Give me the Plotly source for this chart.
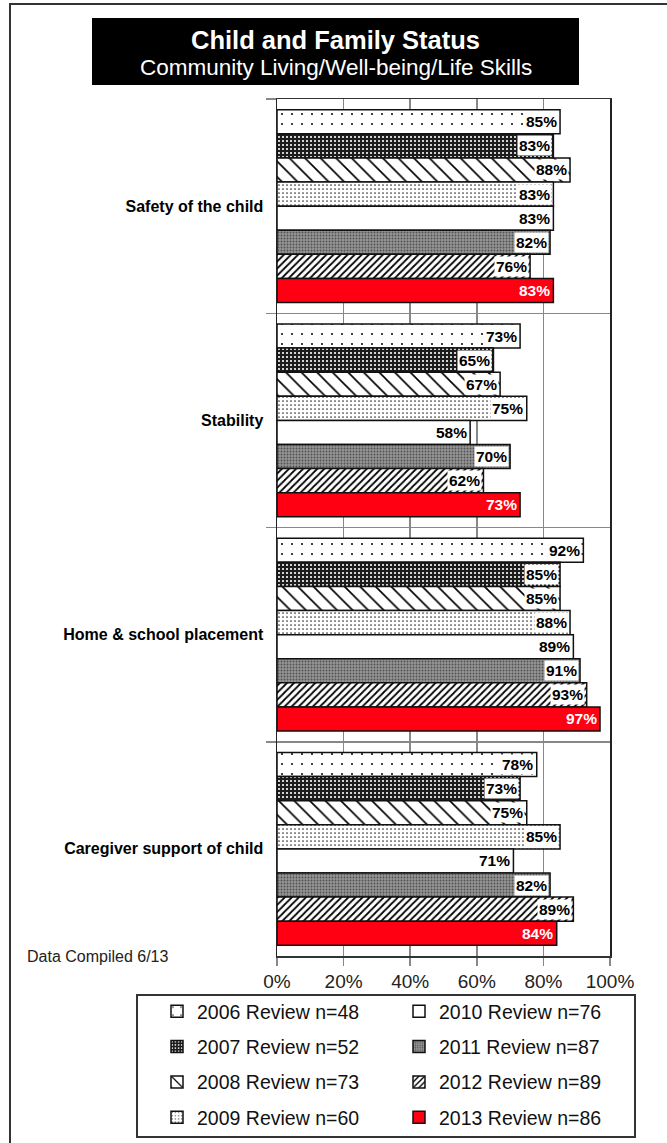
import plotly.graph_objects as go

categories = ["Safety of the child", "Stability", "Home & school placement", "Caregiver support of child"]
series_names = ["2006 Review n=48", "2007 Review n=52", "2008 Review n=73", "2009 Review n=60",
                "2010 Review n=76", "2011 Review n=87", "2012 Review n=89", "2013 Review n=86"]
v2006 = [85, 73, 92, 78]
v2007 = [83, 65, 85, 73]
v2008 = [88, 67, 85, 75]
v2009 = [83, 75, 88, 85]
v2010 = [83, 58, 89, 71]
v2011 = [82, 70, 91, 82]
v2012 = [76, 62, 93, 89]
v2013 = [83, 73, 97, 84]
series_values = [v2006, v2007, v2008, v2009, v2010, v2011, v2012, v2013]
x_ticks = [0, 20, 40, 60, 80, 100]
x_tick_labels = ["0%", "20%", "40%", "60%", "80%", "100%"]

styles = [
    dict(color="white", pattern=dict(shape=".", fgcolor="black", bgcolor="white", size=10, solidity=0.03, fillmode="replace")),
    dict(color="#1c1c1c", pattern=dict(shape=".", fgcolor="white", bgcolor="#1c1c1c", size=4, solidity=0.22, fillmode="replace")),
    dict(color="white", pattern=dict(shape="\\", fgcolor="black", bgcolor="white", size=11, solidity=0.15, fillmode="replace")),
    dict(color="white", pattern=dict(shape=".", fgcolor="#333", bgcolor="white", size=4, solidity=0.15, fillmode="replace")),
    dict(color="white", pattern=dict(shape="")),
    dict(color="#8e8e8e", pattern=dict(shape=".", fgcolor="#505050", bgcolor="#959595", size=3, solidity=0.3, fillmode="replace")),
    dict(color="white", pattern=dict(shape="/", fgcolor="black", bgcolor="white", size=5, solidity=0.35, fillmode="replace")),
    dict(color="#FF0013", pattern=dict(shape="")),
]

W, H = 667, 1143
L, R, T, B = 277, 610, 99, 956
FONT = "Liberation Sans, Arial, sans-serif"


def px_x(px):
    return (px - L) / (R - L)


def px_y(py):
    return (B - py) / (B - T)


fig = go.Figure()
for i, (name, vals, st) in enumerate(zip(series_names, series_values, styles)):
    fig.add_trace(go.Bar(
        y=categories, x=vals, name=name, orientation="h",
        marker=dict(color=st["color"], pattern=st["pattern"], line=dict(color="#111", width=1.5)),
        legend="legend" if i < 4 else "legend2",
        legendgroup=name,
        hoverinfo="skip",
    ))

bargap = 0.1
n = len(series_names)
bw = (1 - bargap) / n
annotations = []
for i, vals in enumerate(series_values):
    off = -(1 - bargap) / 2 + (i + 0.5) * bw
    last = i == n - 1
    for j, v in enumerate(vals):
        annotations.append(dict(
            x=v, y=j + off, xref="x", yref="y", text=f"<b>{v}%</b>", showarrow=False,
            xanchor="right", yanchor="middle", xshift=-1.5,
            font=dict(family=FONT, size=15.5, color="white" if last else "black"),
            bgcolor=None if last else "white", borderpad=1,
        ))

annotations += [
    dict(x=px_x(335.5), y=px_y(40), xref="paper", yref="paper", showarrow=False,
         text="<b>Child and Family Status</b>", xanchor="center", yanchor="middle",
         font=dict(family=FONT, size=25.5, color="white")),
    dict(x=px_x(336), y=px_y(68), xref="paper", yref="paper", showarrow=False,
         text="Community Living/Well-being/Life Skills", xanchor="center", yanchor="middle",
         font=dict(family=FONT, size=22.5, color="white")),
    dict(x=px_x(25), y=px_y(957), xref="paper", yref="paper", showarrow=False,
         text="Data Compiled 6/13", xanchor="left", yanchor="middle",
         font=dict(family=FONT, size=16, color="#222")),
]

shapes = [
    dict(type="rect", xref="paper", yref="paper", x0=px_x(10), x1=px_x(720), y0=px_y(4), y1=px_y(1200),
         line=dict(color="#333", width=2), fillcolor="rgba(0,0,0,0)", layer="above"),
    dict(type="rect", xref="paper", yref="paper", x0=px_x(92), x1=px_x(579), y0=px_y(18), y1=px_y(85),
         line=dict(width=0), fillcolor="black", layer="below"),
    dict(type="rect", xref="paper", yref="paper", x0=px_x(137), x1=px_x(635), y0=px_y(995), y1=px_y(1137),
         line=dict(color="#333", width=2), fillcolor="rgba(0,0,0,0)", layer="above"),
]

legend_common = dict(
    orientation="v", bgcolor="rgba(0,0,0,0)", borderwidth=0,
    font=dict(family=FONT, size=19.5, color="#111"),
    traceorder="grouped", tracegroupgap=7, xanchor="left", yanchor="top",
)

fig.update_layout(
    width=W, height=H, autosize=False,
    margin=dict(l=L, r=W - R, t=T, b=H - B, autoexpand=False),
    paper_bgcolor="white", plot_bgcolor="white",
    barmode="group", bargap=bargap, bargroupgap=0,
    showlegend=True,
    legend=dict(x=px_x(157), y=px_y(992), **legend_common),
    legend2=dict(x=px_x(399), y=px_y(992), **legend_common),
    xaxis=dict(range=[0, 100], tickvals=x_ticks, ticktext=x_tick_labels, ticks="outside", ticklen=8,
               tickcolor="#888", tickwidth=1.5, showgrid=True, gridcolor="#888", gridwidth=1.5,
               showline=True, linecolor="#333", linewidth=1.5, mirror=True, zeroline=False,
               tickfont=dict(family=FONT, size=19, color="#222"), automargin=False,
               fixedrange=True),
    yaxis=dict(categoryorder="array", categoryarray=categories, autorange="reversed",
               tickson="boundaries", ticks="outside", ticklen=10, tickcolor="#888", tickwidth=1.5,
               showgrid=True, gridcolor="#888", gridwidth=1.5, ticklabelstandoff=9,
               showline=True, linecolor="#222", linewidth=1.5, mirror=True,
               tickfont=dict(family=FONT, size=16, color="black", weight="bold"),
               automargin=False, fixedrange=True),
    annotations=annotations,
    shapes=shapes,
)

fig.write_html("out.html", config={"displayModeBar": False, "staticPlot": True},
               post_script="document.body.style.margin='0';document.body.style.overflow='hidden';")
